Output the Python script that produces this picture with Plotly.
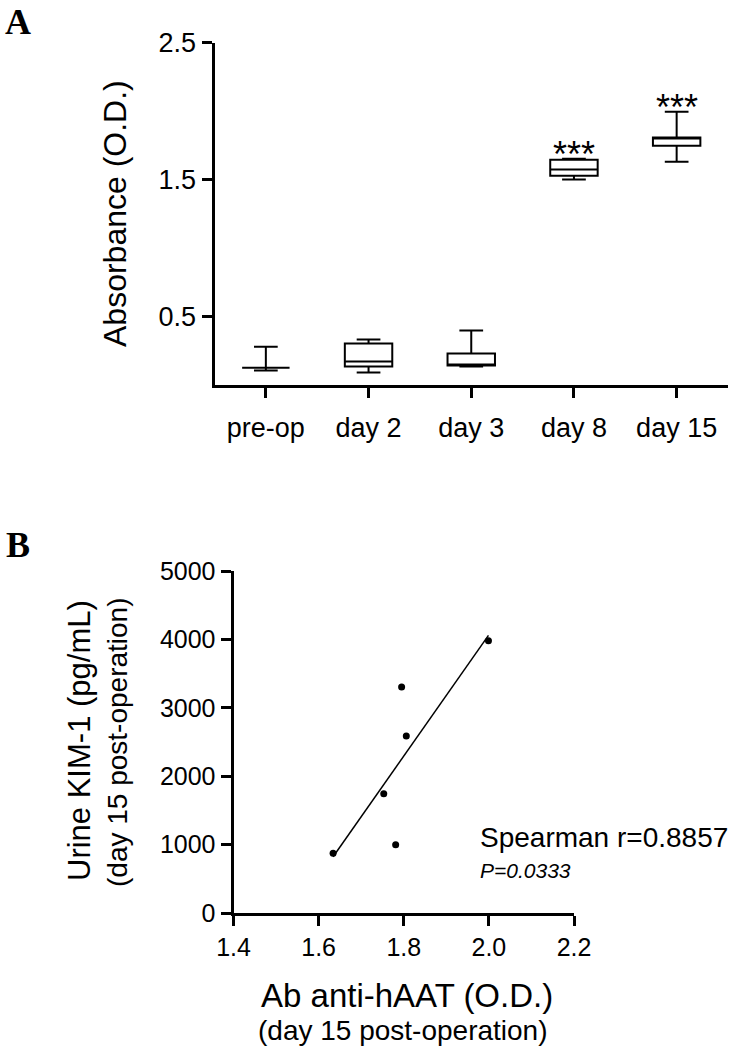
import numpy as np
import plotly.graph_objects as go

# ---------------- data ----------------
categories = ["pre-op", "day 2", "day 3", "day 8", "day 15"]
q1 = [0.126, 0.135, 0.142, 1.529, 1.748]
median = [0.126, 0.172, 0.146, 1.573, 1.800]
q3 = [0.126, 0.303, 0.230, 1.646, 1.807]
lower_fence = [0.106, 0.091, 0.135, 1.500, 1.631]
upper_fence = [0.279, 0.332, 0.398, 1.653, 1.996]
sig_labels = ["", "", "", "***", "***"]
top_ticks = [0.5, 1.5, 2.5]

ab_od = [1.634, 1.781, 1.753, 1.806, 1.795, 1.999]
kim1 = [873, 996, 1742, 2586, 3303, 3982]
bottom_xticks = [1.4, 1.6, 1.8, 2.0, 2.2]
bottom_yticks = [0, 1000, 2000, 3000, 4000, 5000]
spearman_r = "0.8857"
p_value = "0.0333"

W, H = 732, 1048
FONT = "Liberation Sans, Arial, sans-serif"
SERIF = "Liberation Serif, Times New Roman, serif"


def px(x):
    return x / W


def py(y):
    return (H - y) / H


fig = go.Figure()

fig.add_trace(go.Box(
    x=categories, q1=q1, median=median, q3=q3,
    lowerfence=lower_fence, upperfence=upper_fence,
    fillcolor="white", line=dict(color="black", width=2),
    whiskerwidth=0.5, boxpoints=False, showlegend=False,
    xaxis="x", yaxis="y",
))

slope, intercept = np.polyfit(ab_od, kim1, 1)
fit_x = np.array([min(ab_od), max(ab_od)])
fig.add_trace(go.Scatter(
    x=fit_x, y=slope * fit_x + intercept, mode="lines",
    line=dict(color="black", width=1.5), showlegend=False,
    xaxis="x2", yaxis="y2",
))
fig.add_trace(go.Scatter(
    x=ab_od, y=kim1, mode="markers",
    marker=dict(color="black", size=7), showlegend=False,
    xaxis="x2", yaxis="y2",
))

axis_common = dict(
    showline=True, linecolor="black", linewidth=3, ticks="outside",
    ticklen=10, tickwidth=3, tickcolor="black", showgrid=False,
    zeroline=False, automargin=False, fixedrange=True,
)


def note(x, y, text, size, angle=0, xa="center", ya="middle", family=FONT):
    return dict(x=px(x), y=py(y), xref="paper", yref="paper", text=text,
                textangle=angle, showarrow=False, xanchor=xa, yanchor=ya,
                font=dict(family=family, size=size, color="black"))


annotations = []
for c, lab, u in zip(categories, sig_labels, upper_fence):
    if lab:
        annotations.append(dict(
            x=c, y=u, xref="x", yref="y", text=lab, showarrow=False,
            xanchor="center", yanchor="bottom", yshift=-18,
            font=dict(family=FONT, size=36, color="black"),
        ))

annotations += [
    note(115, 214, "Absorbance (O.D.)", 32, angle=-90),
    note(80, 741, "Urine KIM-1 (pg/mL)", 31, angle=-90),
    note(117, 742, "(day 15 post-operation)", 28, angle=-90),
    note(407, 995, "Ab anti-hAAT (O.D.)", 33),
    note(403, 1030, "(day 15 post-operation)", 28),
    note(478, 837, f"Spearman r={spearman_r}", 28, xa="left"),
    note(478, 870, f"<i>P={p_value}</i>", 21, xa="left"),
    note(18, 22, "<b>A</b>", 36, family=SERIF),
    note(18, 545, "<b>B</b>", 36, family=SERIF),
]

fig.update_layout(
    width=W, height=H, template="none",
    margin=dict(l=0, r=0, t=0, b=0),
    paper_bgcolor="white", plot_bgcolor="rgba(0,0,0,0)",
    font=dict(family=FONT, color="black"),
    boxgap=0.34, showlegend=False,
    xaxis=dict(domain=[px(214.5), px(728)], anchor="y", type="category",
               range=[-0.5, 4.5], tickfont=dict(size=27),
               ticklabelstandoff=7, **axis_common),
    yaxis=dict(domain=[py(385), py(42.7)], anchor="x", range=[0, 2.5],
               tickvals=top_ticks, ticktext=[f"{v:.1f}" for v in top_ticks],
               tickfont=dict(size=27), **axis_common),
    xaxis2=dict(domain=[px(233.5), px(574)], anchor="y2", range=[1.4, 2.2],
                tickvals=bottom_xticks,
                ticktext=[f"{v:.1f}" for v in bottom_xticks],
                tickfont=dict(size=25), **axis_common),
    yaxis2=dict(domain=[py(913), py(571)], anchor="x2", range=[0, 5000],
                tickvals=bottom_yticks,
                ticktext=[str(v) for v in bottom_yticks],
                tickfont=dict(size=25), **axis_common),
    annotations=annotations,
)

# remove the browser's default 8px body margin so the figure fills the page
fig.write_html(
    "out.html",
    config={"displayModeBar": False, "staticPlot": True},
    post_script="document.body.style.margin='0';document.body.style.overflow='hidden';",
)
